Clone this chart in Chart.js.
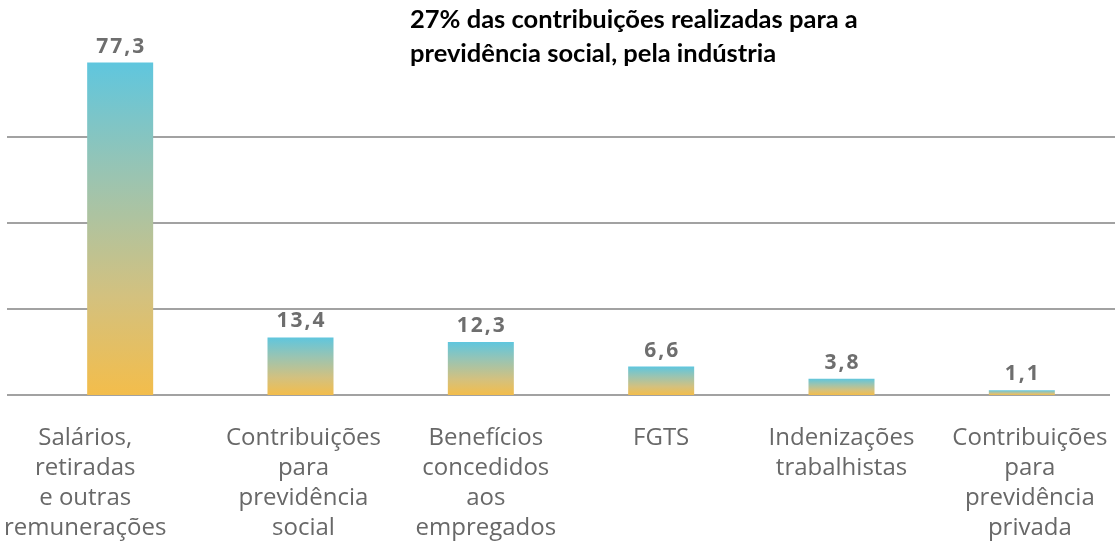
<!DOCTYPE html>
<html lang="pt-BR">
<head>
<meta charset="utf-8">
<title>Contribuições da indústria</title>
<script src="https://cdn.jsdelivr.net/npm/chart.js@4.4.1/dist/chart.umd.min.js"></script>
<style>
  body { margin: 0; background: #fff; }
  #wrap { position: relative; width: 1115px; height: 546px; }
  #titulo {
    position: absolute; left: 410px; top: 1px;
    font-family: Lato, "Open Sans", sans-serif; font-weight: bold;
    font-size: 25.5px; line-height: 34px; color: #000;
  }
</style>
</head>
<body>
<div id="wrap">
  <canvas id="grafico" width="1115" height="546"></canvas>
  <div id="titulo">27% das contribuições realizadas para a<br>previdência social, pela indústria</div>
</div>
<script>
// categorias (uma linha por item do rótulo)
var categorias = [
  ["Salários,", "retiradas", "e outras", "remunerações"],
  ["Contribuições", "para", "previdência", "social"],
  ["Benefícios", "concedidos", "aos", "empregados"],
  ["FGTS"],
  ["Indenizações", "trabalhistas"],
  ["Contribuições", "para", "previdência", "privada"]
];
var valores = [77.3, 13.4, 12.3, 6.6, 3.8, 1.1];
var linhasGrade = [0, 20, 40, 60];

// deslocamento horizontal (px) dos rótulos do eixo x
var ajusteRotulos = [-35, 3, 5, 0, 0, 8];

function formatar(v) {
  return v.toFixed(1).replace(".", ",");
}

// gradiente vertical de cada barra: azul no topo, amarelo na base
function corBarra(c) {
  var chart = c.chart;
  if (!chart.chartArea) return "#9cc4b2";
  var y = chart.scales.y;
  var topo = y.getPixelForValue(c.raw);
  var base = y.getPixelForValue(0);
  if (!isFinite(topo) || topo === base) return "#9cc4b2";
  var g = chart.ctx.createLinearGradient(0, topo, 0, base);
  g.addColorStop(0, "#5fc6de");
  g.addColorStop(0.35, "#9cc4b0");
  g.addColorStop(0.7, "#d3c17f");
  g.addColorStop(1, "#f3bd4b");
  return g;
}

// move os rótulos do eixo x
var posRotulos = {
  id: "posRotulos",
  beforeDraw: function (chart) {
    var itens = chart.scales.x.getLabelItems();
    itens.forEach(function (it, i) {
      it.options.translation[0] += ajusteRotulos[i] || 0;
    });
  }
};

// linhas horizontais ocupando toda a largura
var grade = {
  id: "grade",
  beforeDatasetsDraw: function (chart) {
    var ctx = chart.ctx;
    var y = chart.scales.y;
    ctx.save();
    ctx.strokeStyle = "#a2a2a2";
    ctx.lineWidth = 2;
    linhasGrade.forEach(function (v) {
      var py = Math.round(y.getPixelForValue(v));
      ctx.beginPath();
      ctx.moveTo(7, py);
      ctx.lineTo(v === 0 ? 1110 : chart.width, py);
      ctx.stroke();
    });
    ctx.restore();
  }
};

// valor em cima de cada barra
var rotulos = {
  id: "rotulos",
  afterDatasetsDraw: function (chart) {
    var ctx = chart.ctx;
    var meta = chart.getDatasetMeta(0);
    ctx.save();
    ctx.font = "bold 21px 'Open Sans', sans-serif";
    ctx.fillStyle = "#6e6e6e";
    ctx.textAlign = "center";
    ctx.textBaseline = "alphabetic";
    if ("letterSpacing" in ctx) ctx.letterSpacing = "2px";
    meta.data.forEach(function (bar, i) {
      ctx.fillText(formatar(valores[i]), bar.x + 1, bar.y - 10);
    });
    ctx.restore();
  }
};

var ctx = document.getElementById("grafico").getContext("2d");
var grafico = new Chart(ctx, {
  type: "bar",
  data: {
    labels: categorias,
    datasets: [{
      data: valores,
      backgroundColor: corBarra,
      borderWidth: 0,
      barPercentage: 0.366,
      categoryPercentage: 1
    }]
  },
  options: {
    responsive: false,
    animation: false,
    layout: { padding: { left: 30, right: 3, top: 51, bottom: 3 } },
    plugins: {
      legend: { display: false },
      tooltip: { enabled: false }
    },
    scales: {
      x: {
        grid: { display: false, drawTicks: false },
        border: { display: false },
        afterFit: function (scale) {
          scale.height = 148;
          scale.paddingLeft = 0;
          scale.paddingRight = 0;
        },
        ticks: {
          autoSkip: false,
          maxRotation: 0,
          padding: 28,
          color: "#686868",
          font: { family: "'Open Sans', sans-serif", size: 24, lineHeight: 1.25 }
        }
      },
      y: {
        display: false,
        min: 0,
        max: 80,
        ticks: { stepSize: 20 }
      }
    }
  },
  plugins: [posRotulos, grade, rotulos]
});
</script>
</body>
</html>
